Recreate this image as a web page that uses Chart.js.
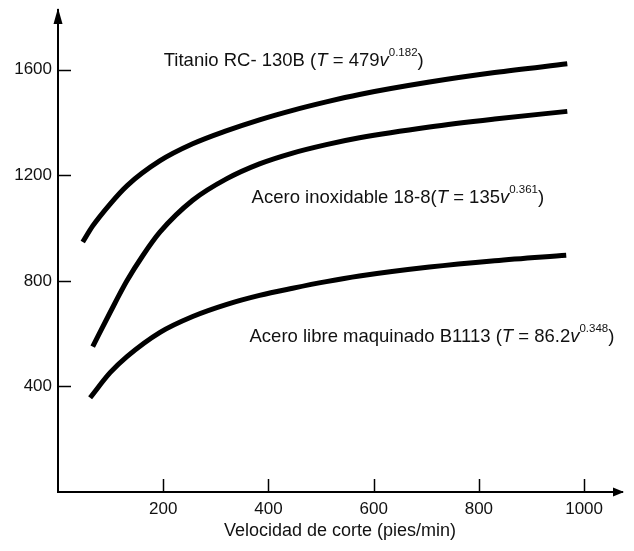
<!DOCTYPE html>
<html><head><meta charset="utf-8">
<script src="https://cdn.jsdelivr.net/npm/chart.js@4.4.0/dist/chart.umd.min.js"></script>
<style>html,body{margin:0;padding:0;background:#fff;} canvas{display:block;}</style>
</head><body>
<canvas id="c" width="634" height="551"></canvas>
<script>
// ---- data ----
const velTitanio = [47, 66, 99, 131, 194, 256, 321, 383, 446, 510, 573, 706, 830, 968];
const tTitanio   = [947, 1008, 1091, 1160, 1255, 1319, 1369, 1410, 1446, 1478, 1506, 1553, 1589, 1622];

const velInox = [66, 99, 131, 161, 194, 256, 321, 383, 446, 510, 573, 706, 830, 968];
const tInox   = [551, 680, 800, 895, 985, 1105, 1187, 1243, 1284, 1316, 1342, 1383, 1413, 1442];

const velLibre = [61, 99, 131, 194, 256, 321, 383, 446, 510, 573, 706, 830, 966];
const tLibre   = [357, 452, 513, 605, 665, 711, 745, 772, 797, 818, 852, 876, 897];

const xTickValues = [200, 400, 600, 800, 1000];
const yTickValues = [400, 800, 1200, 1600];
const xAxisTitle = 'Velocidad de corte (pies/min)';

// curve labels: [anchor v, anchor T, text segments]  (n = normal, i = italic, s = superscript)
const labelTitanio = [201, 1635, [['Titanio RC- 130B (', 'n'], ['T', 'i'], [' = 479', 'n'], ['v', 'i'], ['0.182', 's'], [')', 'n']]];
const labelInox    = [368, 1114, [['Acero inoxidable 18-8(', 'n'], ['T', 'i'], [' = 135', 'n'], ['v', 'i'], ['0.361', 's'], [')', 'n']]];
const labelLibre   = [364, 589,  [['Acero libre maquinado B1113 (', 'n'], ['T', 'i'], [' = 86.2', 'n'], ['v', 'i'], ['0.348', 's'], [')', 'n']]];

const FAMILY = "'Liberation Sans', Arial, sans-serif";
const FS = 17;      // tick labels
const FS_LBL = 18.5; // curve labels

function pts(xs, ys) { return xs.map((x, i) => ({x: x, y: ys[i]})); }
function ds(xs, ys) {
  return { data: pts(xs, ys), showLine: true, borderColor: '#000', borderWidth: 5,
           pointRadius: 0, cubicInterpolationMode: 'monotone', fill: false, borderCapStyle: 'butt' };
}

const decor = {
  id: 'decor',
  afterDraw(chart) {
    const ctx = chart.ctx, xs = chart.scales.x, ys = chart.scales.y, a = chart.chartArea;
    ctx.save();
    ctx.strokeStyle = '#000'; ctx.fillStyle = '#000'; ctx.lineWidth = 1.5;
    // tick marks (inside)
    yTickValues.forEach(v => {
      const p = Math.round(ys.getPixelForValue(v)) + 0.5;
      ctx.beginPath(); ctx.moveTo(a.left, p); ctx.lineTo(a.left + 13, p); ctx.stroke();
    });
    xTickValues.forEach(v => {
      const p = Math.round(xs.getPixelForValue(v)) + 0.5;
      ctx.beginPath(); ctx.moveTo(p, a.bottom); ctx.lineTo(p, a.bottom - 13); ctx.stroke();
    });
    // arrows
    ctx.beginPath(); ctx.moveTo(a.left, a.top - 2); ctx.lineTo(a.left - 4.5, a.top + 14); ctx.lineTo(a.left + 4.5, a.top + 14); ctx.closePath(); ctx.fill();
    ctx.beginPath(); ctx.moveTo(a.right + 2, a.bottom); ctx.lineTo(a.right - 9, a.bottom - 4.5); ctx.lineTo(a.right - 9, a.bottom + 4.5); ctx.closePath(); ctx.fill();
    // curve labels
    ctx.textBaseline = 'middle'; ctx.textAlign = 'left'; ctx.fillStyle = '#111';
    [labelTitanio, labelInox, labelLibre].forEach(L => {
      let x = xs.getPixelForValue(L[0]);
      const y = ys.getPixelForValue(L[1]);
      L[2].forEach(seg => {
        const t = seg[0], k = seg[1];
        if (k === 's') {
          ctx.font = (FS_LBL * 0.62).toFixed(1) + 'px ' + FAMILY;
          ctx.fillText(t, x, y - FS_LBL * 0.42);
        } else {
          ctx.font = (k === 'i' ? 'italic ' : '') + FS_LBL + 'px ' + FAMILY;
          ctx.fillText(t, x, y);
        }
        x += ctx.measureText(t).width;
      });
    });
    ctx.restore();
  }
};

new Chart(document.getElementById('c'), {
  type: 'scatter',
  data: { datasets: [ds(velTitanio, tTitanio), ds(velInox, tInox), ds(velLibre, tLibre)] },
  options: {
    responsive: false, animation: false,
    layout: { padding: { top: 10, right: 12, left: 0, bottom: 0 } },
    plugins: { legend: { display: false }, tooltip: { enabled: false } },
    scales: {
      x: {
        type: 'linear', min: 0, max: 1072,
        afterFit(s) { s.height = 59; s.paddingLeft = 0; s.paddingRight = 0; },
        afterBuildTicks(s) { s.ticks = xTickValues.map(v => ({value: v})); },
        ticks: { font: { size: FS, family: FAMILY }, color: '#111', padding: 7, maxRotation: 0, autoSkip: false,
                 callback: v => String(v) },
        grid: { drawOnChartArea: false, drawTicks: false },
        border: { display: true, color: '#000', width: 2 },
        title: { display: true, text: xAxisTitle, font: { size: 18, family: FAMILY }, color: '#111', padding: { top: 4, bottom: 9 } }
      },
      y: {
        type: 'linear', min: 0, max: 1826,
        afterFit(s) { s.width = 58; s.paddingTop = 0; s.paddingBottom = 0; },
        afterBuildTicks(s) { s.ticks = yTickValues.map(v => ({value: v})); },
        ticks: { font: { size: FS, family: FAMILY }, color: '#111', padding: 6, autoSkip: false,
                 callback: v => String(v) },
        grid: { drawOnChartArea: false, drawTicks: false },
        border: { display: true, color: '#000', width: 2 }
      }
    }
  },
  plugins: [decor]
});
</script>
</body></html>
